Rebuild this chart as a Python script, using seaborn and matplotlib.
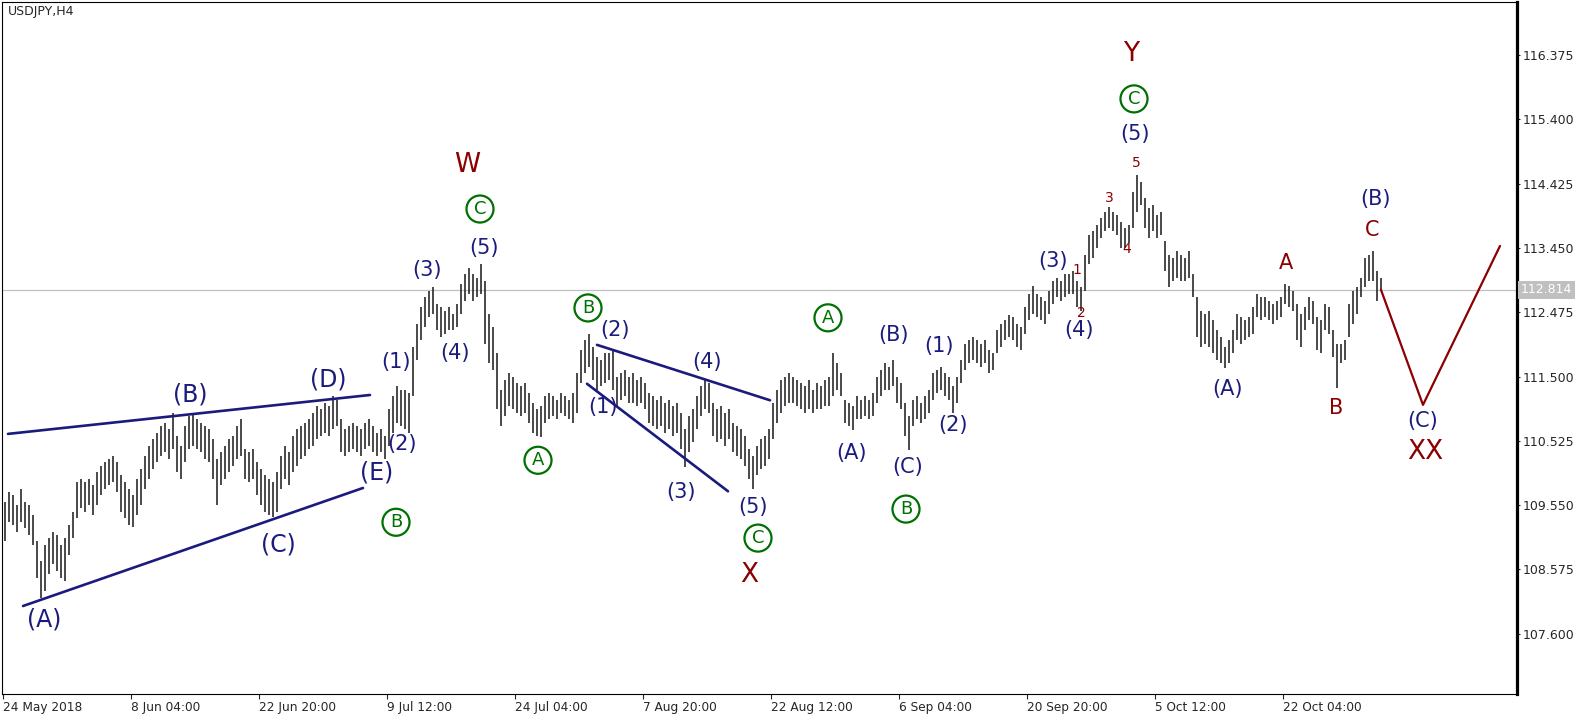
import numpy as np
import pandas as pd
import seaborn as sns
import matplotlib.pyplot as plt
import matplotlib.transforms as mtransforms

NAVY = "#1b1b7d"
MAROON = "#8b0000"
GREEN = "#007000"
PRICE_GREY = "#c0c0c0"

# bars as (high, low), each bar = 2 H4 candles, in time order
seg_a = [(109.60, 109.00), (109.75, 109.30), (109.70, 109.25), (109.55, 109.15), (109.80, 109.30),
         (109.60, 109.20), (109.55, 109.10), (109.40, 108.95), (109.00, 108.45), (108.70, 108.14),
         (108.95, 108.25), (109.05, 108.50), (109.15, 108.65), (109.10, 108.55), (108.95, 108.45),
         (109.05, 108.40), (109.25, 108.80), (109.45, 109.05), (109.90, 109.35), (109.95, 109.50),
         (109.90, 109.45), (109.95, 109.55), (109.85, 109.40), (110.05, 109.55), (110.15, 109.70),
         (110.20, 109.80), (110.25, 109.85), (110.30, 109.90), (110.20, 109.75), (110.00, 109.45),
         (109.90, 109.35), (109.80, 109.25), (109.70, 109.22)]
seg_b = [(109.95, 109.40), (110.10, 109.55), (110.30, 109.80), (110.45, 109.95), (110.55, 110.10),
         (110.65, 110.20), (110.75, 110.30), (110.80, 110.35), (110.70, 110.25), (110.95, 110.40),
         (110.60, 110.05), (110.45, 109.95), (110.75, 110.20), (110.90, 110.40), (110.95, 110.45),
         (110.85, 110.40), (110.80, 110.35), (110.75, 110.25), (110.70, 110.20), (110.55, 109.95),
         (110.25, 109.55), (110.35, 109.85), (110.45, 109.95), (110.55, 110.05), (110.60, 110.15),
         (110.75, 110.25), (110.85, 110.30), (110.40, 109.95), (110.35, 109.90), (110.40, 109.95),
         (110.20, 109.70), (110.10, 109.55), (110.00, 109.45), (109.95, 109.40), (109.90, 109.37),
         (110.05, 109.45), (110.30, 109.80), (110.45, 109.95), (110.35, 109.85), (110.60, 110.05),
         (110.70, 110.15), (110.75, 110.25), (110.80, 110.30), (110.85, 110.40), (110.95, 110.45),
         (111.05, 110.55), (111.00, 110.60), (111.10, 110.65), (111.05, 110.60), (111.20, 110.70),
         (111.15, 110.75)]
seg_c = [(110.85, 110.35), (110.70, 110.30), (110.75, 110.35), (110.80, 110.40), (110.75, 110.35),
         (110.70, 110.30), (110.80, 110.40), (110.85, 110.45), (110.75, 110.35), (110.65, 110.30),
         (110.70, 110.35), (110.60, 110.25), (111.00, 110.45), (111.20, 110.65), (111.35, 110.80),
         (111.30, 110.75), (111.30, 110.70), (111.25, 110.65), (111.95, 111.20), (112.30, 111.75),
         (112.55, 112.05), (112.70, 112.25), (112.80, 112.40), (112.85, 112.45), (112.60, 112.20),
         (112.55, 112.10), (112.50, 112.15), (112.55, 112.20), (112.45, 112.20), (112.60, 112.25),
         (112.90, 112.45), (113.05, 112.65), (113.15, 112.75), (113.05, 112.65), (113.00, 112.70),
         (113.20, 112.75)]
seg_d = [(112.95, 112.00), (112.45, 111.70), (112.25, 111.60), (111.85, 111.00), (111.30, 110.75),
         (111.45, 110.90), (111.55, 111.05), (111.50, 111.00), (111.40, 110.95), (111.35, 110.90),
         (111.40, 110.95), (111.25, 110.80), (111.10, 110.65), (111.00, 110.60), (111.05, 110.58),
         (111.20, 110.80), (111.25, 110.85), (111.20, 110.90), (111.15, 110.85), (111.25, 110.95),
         (111.20, 110.90), (111.15, 110.85), (111.25, 110.80), (111.55, 110.95), (111.90, 111.40),
         (112.05, 111.55), (112.15, 111.65)]
seg_e = [(111.95, 111.45), (111.80, 111.30), (111.75, 111.35), (111.85, 111.40), (111.85, 111.45),
         (111.90, 111.30), (111.50, 111.05), (111.55, 111.15), (111.60, 111.20), (111.50, 111.10),
         (111.55, 111.10), (111.45, 111.05), (111.50, 111.10), (111.40, 111.00), (111.25, 110.80),
         (111.20, 110.75), (111.15, 110.70), (111.20, 110.75), (111.10, 110.65), (111.15, 110.70),
         (111.05, 110.60), (111.10, 110.65), (110.95, 110.40), (110.70, 110.13), (110.90, 110.35),
         (111.00, 110.50), (111.20, 110.70), (111.35, 110.90), (111.45, 111.00), (111.40, 110.95),
         (111.10, 110.60), (111.00, 110.50), (111.05, 110.55), (110.95, 110.45), (111.00, 110.55),
         (110.80, 110.35), (110.75, 110.30), (110.70, 110.25), (110.60, 110.15), (110.40, 109.95),
         (110.30, 109.79)]
seg_f = [(110.45, 110.00), (110.55, 110.10), (110.60, 110.15), (110.70, 110.25), (111.10, 110.55),
         (111.30, 110.80), (111.45, 110.95), (111.50, 111.05), (111.55, 111.10), (111.50, 111.10),
         (111.45, 111.05), (111.40, 111.00), (111.35, 110.95), (111.45, 111.00), (111.30, 110.95),
         (111.40, 111.00), (111.35, 111.00), (111.45, 111.05), (111.50, 111.05), (111.85, 111.20),
         (111.70, 111.30), (111.55, 111.20), (111.15, 110.80), (111.10, 110.75), (111.05, 110.69),
         (111.20, 110.85), (111.15, 110.85), (111.20, 110.90), (111.15, 110.85), (111.25, 110.90),
         (111.50, 111.10), (111.60, 111.20), (111.70, 111.30), (111.65, 111.30), (111.75, 111.35),
         (111.50, 111.10), (111.40, 111.00), (111.10, 110.60), (110.90, 110.38)]
seg_g = [(111.15, 110.75), (111.20, 110.85), (111.10, 110.80), (111.20, 110.85), (111.30, 110.95),
         (111.55, 111.15), (111.60, 111.25), (111.65, 111.30), (111.55, 111.20), (111.50, 111.15),
         (111.35, 110.95), (111.50, 111.10), (111.75, 111.40), (112.00, 111.60), (112.05, 111.70),
         (112.10, 111.75), (112.05, 111.70), (112.00, 111.65), (112.05, 111.70), (111.90, 111.55),
         (111.85, 111.60), (112.20, 111.85), (112.30, 111.95), (112.35, 112.05), (112.43, 112.10),
         (112.40, 112.05), (112.30, 111.95), (112.25, 111.90), (112.55, 112.15), (112.75, 112.35),
         (112.88, 112.45), (112.75, 112.40), (112.70, 112.35), (112.65, 112.30), (112.80, 112.45),
         (112.95, 112.60), (113.00, 112.70), (112.95, 112.65), (113.05, 112.70), (113.05, 112.75),
         (113.10, 112.75), (112.95, 112.55), (112.85, 112.50)]
seg_h = [(113.35, 112.80), (113.65, 113.20), (113.70, 113.30), (113.80, 113.45), (113.90, 113.60),
         (114.00, 113.70), (114.07, 113.75), (114.00, 113.70), (113.95, 113.65), (113.85, 113.45),
         (113.75, 113.45), (113.80, 113.52), (114.30, 113.75), (114.56, 114.00), (114.45, 114.10),
         (114.20, 113.75), (114.05, 113.60), (114.10, 113.70), (113.95, 113.60), (114.00, 113.65),
         (113.55, 113.10), (113.35, 112.85), (113.30, 112.95), (113.40, 113.00), (113.35, 112.95),
         (113.30, 112.95), (113.40, 113.00), (113.05, 112.70), (112.70, 112.10), (112.50, 111.95),
         (112.45, 112.00), (112.50, 111.95), (112.35, 111.85), (112.20, 111.75), (112.10, 111.70),
         (111.95, 111.63), (112.05, 111.70)]
seg_i = [(112.20, 111.85), (112.45, 112.05), (112.40, 112.00), (112.35, 112.05), (112.40, 112.10),
         (112.55, 112.15), (112.75, 112.40), (112.70, 112.35), (112.70, 112.40), (112.65, 112.35),
         (112.60, 112.30), (112.65, 112.35), (112.70, 112.40), (112.90, 112.60), (112.88, 112.55),
         (112.80, 112.50), (112.60, 112.05), (112.45, 111.95), (112.55, 112.20), (112.70, 112.35),
         (112.65, 112.30), (112.40, 111.90), (112.35, 111.85), (112.60, 112.20), (112.55, 112.15),
         (112.20, 111.80), (112.00, 111.33), (112.00, 111.70), (112.05, 111.75), (112.60, 112.10),
         (112.80, 112.30), (112.85, 112.45), (113.00, 112.70), (113.30, 112.85), (113.35, 112.95),
         (113.40, 112.95), (113.10, 112.65), (113.00, 112.81)]

last_price = 112.814
price_ticks = [107.600, 108.575, 109.550, 110.525, 111.500, 112.475, 113.450, 114.425, 115.400, 116.375]
date_labels = ["24 May 2018", "8 Jun 04:00", "22 Jun 20:00", "9 Jul 12:00", "24 Jul 04:00",
               "7 Aug 20:00", "22 Aug 12:00", "6 Sep 04:00", "20 Sep 20:00", "5 Oct 12:00",
               "22 Oct 04:00"]

# (x in H4 bars, price) end points of the drawn channel lines
triangle_upper = ([2.5, 183.5], [110.63, 111.22])
triangle_lower = ([10, 180], [108.02, 109.81])
diagonal_upper = ([297, 383.5], [111.98, 111.14])
diagonal_lower = ([292, 362.5], [111.39, 109.76])
forecast = ([689, 710, 748.5], [112.814, 111.07, 113.48])

# wave labels: text, bar, price
big_navy = [("(A)", 20.5, 107.82), ("(B)", 93.5, 111.22), ("(C)", 137.5, 108.95),
            ("(D)", 162.5, 111.46), ("(E)", 187, 110.04)]
navy = [("(1)", 196.5, 111.72), ("(2)", 199.5, 110.48), ("(3)", 212, 113.12), ("(4)", 226, 111.86),
        ("(5)", 240.5, 113.45), ("(1)", 300, 111.04), ("(2)", 306, 112.21), ("(3)", 339, 109.75),
        ("(4)", 352, 111.72), ("(5)", 375, 109.52), ("(A)", 424.5, 110.34), ("(B)", 445, 112.13),
        ("(C)", 452.5, 110.13), ("(1)", 468, 111.96), ("(2)", 475, 110.76), ("(3)", 525, 113.25),
        ("(4)", 538, 112.21), ("(5)", 566, 115.18), ("(A)", 612.5, 111.31), ("(B)", 686.5, 114.19),
        ("(C)", 710, 110.82)]
red_big = [("W", 232, 114.71), ("X", 373, 108.49), ("Y", 564, 116.39), ("XX", 711, 110.36)]
red_mid = [("A", 641.5, 113.22), ("B", 666.5, 111.02), ("C", 684.5, 113.72)]
red_small = [("1", 537, 113.12), ("2", 539, 112.46), ("3", 553, 114.21), ("4", 562, 113.43),
             ("5", 566.5, 114.74)]
green_circled = [("B", 196.5, 109.29), ("C", 238.5, 114.04), ("A", 267.5, 110.23),
                 ("B", 292.5, 112.54), ("C", 377.5, 109.05), ("A", 412.5, 112.39),
                 ("B", 451.5, 109.49), ("C", 565.5, 115.71)]

bars = pd.DataFrame(seg_a + seg_b + seg_c + seg_d + seg_e + seg_f + seg_g + seg_h + seg_i,
                    columns=["high", "low"])
bars["t"] = 1 + 2 * np.arange(len(bars))

sns.set_style("white")
plt.rcParams["font.family"] = ["DejaVu Sans"]

fig = plt.figure(figsize=(15.96, 7.23), dpi=100)
ax = fig.add_axes([2 / 1596, 29 / 723, 1515 / 1596, 692 / 723])

ax.axhline(last_price, color=PRICE_GREY, lw=0.9, zorder=0)
ax.vlines(bars["t"], bars["low"], bars["high"], color="#202020", lw=1.15, zorder=2)

for xs, ys in [triangle_upper, triangle_lower, diagonal_upper, diagonal_lower]:
    sns.lineplot(x=xs, y=ys, ax=ax, color=NAVY, linewidth=1.9, sort=False, estimator=None, zorder=3)
sns.lineplot(x=forecast[0], y=forecast[1], ax=ax, color=MAROON, linewidth=1.6, sort=False,
             estimator=None, zorder=3)

for s, t, p in big_navy:
    ax.text(t, p, s, color=NAVY, fontsize=17, ha="center", va="center")
for s, t, p in navy:
    ax.text(t, p, s, color=NAVY, fontsize=15, ha="center", va="center")
for s, t, p in red_big:
    ax.text(t, p, s, color=MAROON, fontsize=19, ha="center", va="center")
for s, t, p in red_mid:
    ax.text(t, p, s, color=MAROON, fontsize=15, ha="center", va="center")
for s, t, p in red_small:
    ax.text(t, p, s, color=MAROON, fontsize=10, ha="center", va="center")
for s, t, p in green_circled:
    ax.text(t, p, s, color=GREEN, fontsize=13, ha="center", va="center",
            bbox=dict(boxstyle="circle,pad=0.25", fc="none", ec=GREEN, lw=1.6))

ax.set_xlim(-0.5, 757)
ax.set_ylim(106.686, 117.179)

ax.yaxis.tick_right()
ax.set_yticks(price_ticks)
ax.set_yticklabels([f"{v:.3f}" for v in price_ticks])
ax.tick_params(axis="y", direction="out", length=2.5, width=0.8, pad=1.5, labelsize=9,
               right=True, left=False)

ax.set_xticks(np.arange(len(date_labels)) * 64)
ax.set_xticklabels(date_labels, ha="left")
ax.tick_params(axis="x", direction="out", length=3.5, width=0.8, pad=1.5, labelsize=8.7, bottom=True)

for side in ["left", "top", "bottom"]:
    ax.spines[side].set_linewidth(0.8)
    ax.spines[side].set_color("black")
ax.spines["right"].set_linewidth(2.3)
ax.spines["right"].set_color("black")

tr = mtransforms.blended_transform_factory(ax.transAxes, ax.transData)
ax.text(1.0025, last_price, f"{last_price:.3f}", transform=tr, ha="left", va="center",
        color="white", fontsize=9, bbox=dict(boxstyle="square,pad=0.2", fc=PRICE_GREY, ec="none"))

fig.text(8 / 1596, 1 - 12 / 723, "USDJPY,H4", fontsize=9, ha="left", va="center")

fig.savefig("out.png", dpi=100)
